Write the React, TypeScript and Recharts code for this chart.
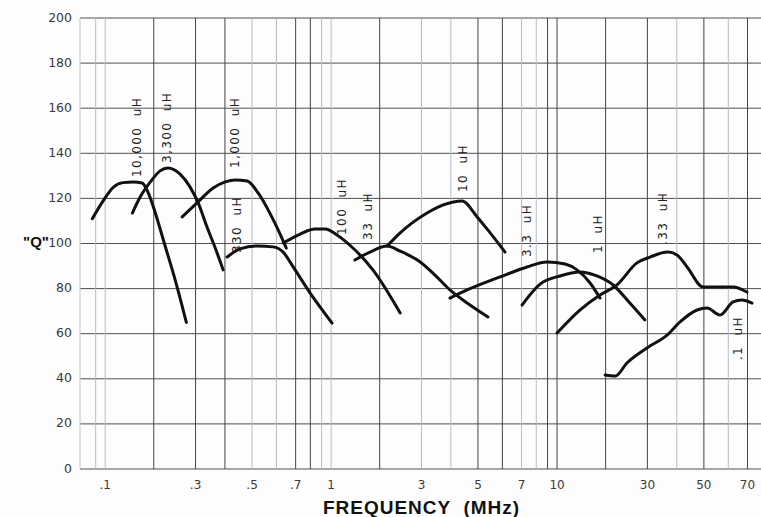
import React from 'react';
import { LineChart, Line, XAxis, YAxis, CartesianGrid, ReferenceLine, ReferenceDot } from 'recharts';

// Ruling of this graph paper: where the digit lines 1..10 sit inside one decade
const rulingPos = [0, 0.215, 0.4, 0.53, 0.65, 0.758, 0.843, 0.908, 0.958, 1.0];

// Vertical ruling lines (MHz)
const rulingDark = [0.2, 0.3, 0.4, 0.7, 0.8, 2, 5, 6, 9, 10, 20, 30, 50, 70];
const rulingLight = [0.09, 0.1, 0.5, 0.6, 0.9, 1, 3, 4, 7, 8, 40, 60];

// Tick labels
const xTickFreqs = [0.1, 0.3, 0.5, 0.7, 1, 3, 5, 7, 10, 30, 50, 70];
const xTickLabels = ['.1', '.3', '.5', '.7', '1', '3', '5', '7', '10', '30', '50', '70'];
const yTicks = [0, 20, 40, 60, 80, 100, 120, 140, 160, 180, 200];

const freqMin = 0.077;
const freqMax = 79.2;

// Curves: frequency (MHz) and Q
const f10000 = [0.087, 0.098, 0.117, 0.137, 0.158, 0.176, 0.188, 0.203, 0.227, 0.251, 0.278];
const q10000 = [111, 119, 125, 127, 127.3, 126.8, 122.8, 114, 99, 84, 65];

const f3300 = [0.156, 0.172, 0.193, 0.215, 0.234, 0.263, 0.287, 0.309, 0.339, 0.367, 0.394];
const q3300 = [113.5, 120.6, 127.3, 132.2, 133.5, 130.8, 125, 118, 107.3, 98, 88.3];

const f1000 = [0.268, 0.305, 0.36, 0.401, 0.438, 0.482, 0.525, 0.566, 0.604, 0.651];
const q1000 = [111.8, 118, 124.6, 127.3, 128.2, 127.7, 122.4, 114.9, 106.9, 98];

const f330 = [0.408, 0.456, 0.521, 0.586, 0.635, 0.687, 0.799, 1.02];
const q330 = [94, 97.6, 98.9, 98.5, 96.2, 89.6, 78, 64.7];

const f100 = [0.635, 0.731, 0.842, 0.937, 1.12, 1.45, 1.86, 2.49];
const q100 = [100.2, 104.2, 106.4, 106.4, 103.8, 98, 88.3, 69.2];

const f33 = [1.49, 1.8, 2.18, 2.49, 2.97, 3.46, 3.97, 4.6, 5.41];
const q33 = [92.7, 96.2, 98.9, 96.6, 91.8, 86, 79.4, 73.6, 67.4];

const f10 = [2.18, 2.49, 3.19, 3.74, 4.41, 4.97, 5.5, 6.14];
const q10 = [98.9, 104.7, 113.5, 117.1, 118.9, 111.8, 104.7, 96.2];

const f3p3 = [3.97, 4.6, 5.91, 7.37, 8.96, 11.65, 14.1, 16.8, 18.85];
const q3p3 = [75.8, 79.4, 85.2, 89.6, 91.8, 90.9, 88.3, 82.5, 75.8];

const f1 = [7.03, 8.34, 10.6, 14.7, 18.2, 21.8, 25.8, 29.4];
const q1 = [72.7, 82, 85.6, 87.4, 85.6, 81.6, 73.6, 66.1];

const fp33 = [10.0, 14.7, 18.85, 22.7, 27.5, 30.9, 37.0, 40.1, 43.8, 49.7, 55.4, 62.5, 69.7];
const qp33 = [60.3, 70.5, 77.2, 81.6, 91.4, 94, 96.2, 94.9, 89.6, 80.7, 80.7, 80.7, 78.5];

const fp1 = [19.9, 22.3, 25.1, 29.9, 36.7, 41.2, 47.5, 51.3, 56.6, 62.5, 67.1, 73.1];
const qp1 = [41.7, 41.2, 47, 53.7, 59.4, 65.2, 70.5, 71.4, 68.3, 74.1, 75, 73.6];

// Curve annotations (text, frequency, Q at the text's lower end)
const labelTexts = ['10,000  uH', '3,300  uH', '1,000  uH', '330  uH', '100  uH', '33  uH', '10  uH', '3.3  uH', '1  uH', '.33  uH', '.1  uH'];
const labelFreqs = [0.166, 0.232, 0.438, 0.445, 1.226, 1.761, 4.45, 7.37, 18.44, 35.3, 65.05];
const labelQs = [129.5, 135.7, 133.5, 95.8, 103.8, 101.6, 122.8, 94, 95.8, 99.3, 48.3];

function toPaper(f: number): number {
  const lg = Math.log10(f);
  const d = Math.floor(lg + 1e-9);
  const m = f / Math.pow(10, d);
  const i = Math.max(1, Math.min(Math.floor(m + 1e-9), 9));
  const lo = rulingPos[i - 1];
  const hi = rulingPos[i];
  return d + lo + (hi - lo) * (m - i);
}

const U_MIN = toPaper(freqMin);
const U_MAX = toPaper(freqMax);

const build = (fs: number[], qs: number[]) => fs.map((f, i) => ({ u: toPaper(f), q: qs[i] }));

const series = [
  build(f10000, q10000),
  build(f3300, q3300),
  build(f1000, q1000),
  build(f330, q330),
  build(f100, q100),
  build(f33, q33),
  build(f10, q10),
  build(f3p3, q3p3),
  build(f1, q1),
  build(fp33, qp33),
  build(fp1, qp1),
];

const xTickU = xTickFreqs.map(toPaper);

const XTick = (props: any) => {
  const { x, y, payload } = props;
  const idx = xTickU.findIndex((u) => Math.abs(u - payload.value) < 1e-6);
  const txt = idx >= 0 ? xTickLabels[idx] : '';
  return (
    <text x={x} y={y + 16} textAnchor="middle" dominantBaseline="middle" fontFamily="DejaVu Sans" fontSize={12} fill="#3a3a3a">
      {txt}
    </text>
  );
};

const YTick = (props: any) => {
  const { x, y, payload } = props;
  return (
    <text x={x - 8} y={y} textAnchor="end" dominantBaseline="middle" fontFamily="DejaVu Sans" fontSize={12.5} fill="#3a3a3a">
      {payload.value}
    </text>
  );
};

const XLabel = (props: any) => {
  const vb = props.viewBox || {};
  return (
    <text x={vb.x + vb.width / 2 + 1} y={vb.y + 40} textAnchor="middle" dominantBaseline="middle" fontFamily="Liberation Sans" fontWeight="bold" fontSize={19} letterSpacing={1} fill="#111" style={{ whiteSpace: 'pre' }}>
      {'FREQUENCY  (MHz)'}
    </text>
  );
};

const YLabel = (props: any) => {
  const vb = props.viewBox || {};
  return (
    <text x={vb.x + 36} y={vb.y + vb.height / 2} textAnchor="middle" dominantBaseline="middle" fontFamily="Liberation Sans" fontWeight="bold" fontSize={15} fill="#111">
      {'"Q"'}
    </text>
  );
};

const makeLabelShape = (txt: string) => (p: any) => (
  <text
    x={p.cx}
    y={p.cy}
    transform={`rotate(-90, ${p.cx}, ${p.cy})`}
    textAnchor="start"
    dominantBaseline="central"
    fontFamily="DejaVu Sans"
    fontSize={12}
    letterSpacing={1.4}
    fill="#222"
    style={{ whiteSpace: 'pre' }}
  >
    {txt}
  </text>
);

export default function App() {
  return (
    <div style={{ position: 'absolute', left: 0, top: 0, width: 761, height: 517, background: '#fdfdfd' }}>
      <LineChart width={761} height={517} margin={{ top: 18, right: 0, bottom: 0, left: 0 }}>
        <CartesianGrid vertical={false} stroke="#505050" strokeWidth={1} />
        <XAxis
          type="number"
          dataKey="u"
          domain={[U_MIN, U_MAX]}
          allowDataOverflow
          ticks={xTickU}
          interval={0}
          tick={<XTick />}
          tickLine={false}
          tickSize={0}
          tickMargin={0}
          axisLine={false}
          height={48}
          label={<XLabel />}
        />
        <YAxis
          type="number"
          domain={[0, 200]}
          ticks={yTicks}
          interval={0}
          tick={<YTick />}
          tickLine={false}
          tickSize={0}
          tickMargin={0}
          axisLine={{ stroke: '#c4c4c4' }}
          width={80}
          label={<YLabel />}
        />
        {rulingLight.map((f) => (
          <ReferenceLine key={'l' + f} x={toPaper(f)} stroke="#b4bdc8" strokeWidth={1} />
        ))}
        {rulingDark.map((f) => (
          <ReferenceLine key={'d' + f} x={toPaper(f)} stroke="#444" strokeWidth={1} />
        ))}
        {series.map((d, i) => (
          <Line
            key={i}
            data={d}
            dataKey="q"
            type="monotone"
            stroke="#111"
            strokeWidth={3}
            strokeLinecap="round"
            strokeLinejoin="round"
            dot={false}
            activeDot={false}
            isAnimationActive={false}
          />
        ))}
        {labelTexts.map((t, i) => (
          <ReferenceDot key={t} x={toPaper(labelFreqs[i])} y={labelQs[i]} r={0} shape={makeLabelShape(t)} />
        ))}
      </LineChart>
    </div>
  );
}
